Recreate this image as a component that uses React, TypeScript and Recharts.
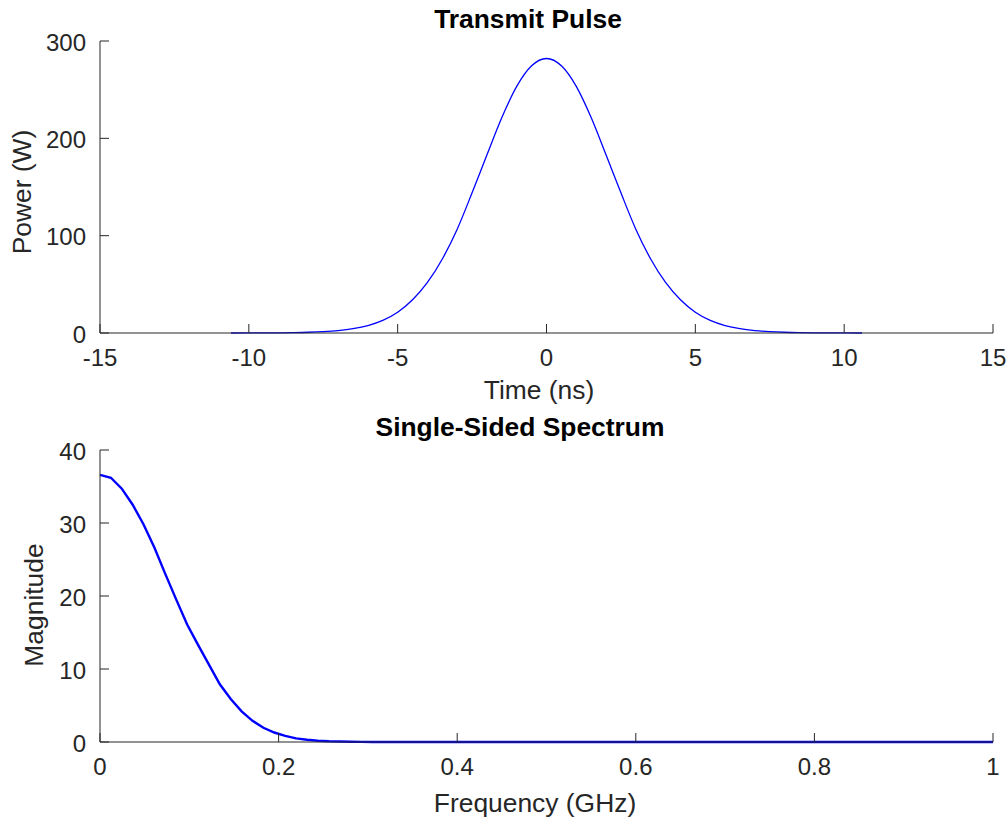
import { Line, LineChart, XAxis, YAxis } from 'recharts'

// top subplot: transmit pulse
const timeNs = [
  -10.6, -10, -9.5, -9, -8.5, -8, -7.5, -7, -6.5, -6, -5.5, -5, -4.5, -4, -3.5, -3, -2.5, -2, -1.5, -1, -0.5,
  0, 0.5, 1, 1.5, 2, 2.5, 3, 3.5, 4, 4.5, 5, 5.5, 6, 6.5, 7, 7.5, 8, 8.5, 9, 9.5, 10, 10.6,
]
const powerW = [
  0, 0.05, 0.1, 0.21, 0.4, 0.75, 1.4, 2.5, 4.4, 7.6, 12.9, 21.3, 34.1, 51.9, 76, 106.7, 144, 183.1, 221.4, 253.4,
  274.5, 282, 274.5, 253.4, 221.4, 183.1, 144, 106.7, 76, 51.9, 34.1, 21.3, 12.9, 7.6, 4.4, 2.5, 1.4, 0.75, 0.4,
  0.21, 0.1, 0.05, 0,
]
const timeTicks = [-15, -10, -5, 0, 5, 10, 15]
const powerTicks = [0, 100, 200, 300]

// bottom subplot: single-sided spectrum
const freqGHz = [
  0, 0.0122, 0.0244, 0.0366, 0.0488, 0.061, 0.0732, 0.0854, 0.0976, 0.1098, 0.122, 0.1342, 0.1464, 0.1586,
  0.1708, 0.183, 0.1952, 0.2074, 0.2196, 0.2318, 0.244, 0.2562, 0.2684, 0.2806, 0.2928, 0.305, 0.4, 0.5, 0.6,
  0.7, 0.8, 0.9, 1,
]
const magnitude = [
  36.6, 36.2, 34.7, 32.5, 29.8, 26.6, 23.0, 19.5, 16.1, 13.3, 10.6, 7.9, 5.9, 4.2, 2.9, 1.95, 1.3, 0.85, 0.5,
  0.3, 0.18, 0.1, 0.06, 0.03, 0.015, 0.01, 0, 0, 0, 0, 0, 0, 0,
]
const freqTicks = [0, 0.2, 0.4, 0.6, 0.8, 1]
const magTicks = [0, 10, 20, 30, 40]

const pulseData = timeNs.map((t, i) => ({ t, p: powerW[i] }))
const spectrumData = freqGHz.map((f, i) => ({ f, m: magnitude[i] }))

const FONT = '"Liberation Sans", Arial, Helvetica, sans-serif'
const INK = '#262626'
const TICK_LEN = 9

function XTick(props: any) {
  const { x, y, payload } = props
  return (
    <g>
      <line x1={x} x2={x} y1={y} y2={y - TICK_LEN} stroke={INK} strokeWidth={1} />
      <text x={x} y={y + 33} textAnchor="middle" fill={INK} fontSize={24} fontFamily={FONT}>
        {payload.value}
      </text>
    </g>
  )
}

function YTick(props: any) {
  const { x, y, payload } = props
  return (
    <g>
      <line x1={x} x2={x + TICK_LEN} y1={y} y2={y} stroke={INK} strokeWidth={1} />
      <text x={x - 14} y={y + 9.5} textAnchor="end" fill={INK} fontSize={24} fontFamily={FONT}>
        {payload.value}
      </text>
    </g>
  )
}

// axes need a size of at least 1px or recharts skips drawing them
const xAxisProps = {
  type: 'number' as const,
  height: 1,
  tickSize: 0,
  tickMargin: 0,
  tickLine: false,
  axisLine: { stroke: INK },
  tick: <XTick />,
  interval: 0 as const,
}
const yAxisProps = {
  type: 'number' as const,
  width: 1,
  tickSize: 0,
  tickMargin: 0,
  tickLine: false,
  axisLine: { stroke: INK },
  tick: <YTick />,
  interval: 0 as const,
}

export default function App() {
  return (
    <div style={{ position: 'absolute', left: 0, top: 0, width: 1006, height: 818, background: '#fff' }}>
      <div style={{ position: 'absolute', left: 0, top: 0 }}>
        <LineChart width={1006} height={400} data={pulseData} margin={{ top: 41, right: 13, bottom: 66, left: 99 }}>
          <XAxis dataKey="t" domain={[-15, 15]} ticks={timeTicks} {...xAxisProps} />
          <YAxis domain={[0, 300]} ticks={powerTicks} {...yAxisProps} />
          <Line type="monotone" dataKey="p" stroke="#0000ff" strokeWidth={1.3} dot={false} isAnimationActive={false} />
        </LineChart>
      </div>
      <div style={{ position: 'absolute', left: 0, top: 409 }}>
        <LineChart width={1006} height={409} data={spectrumData} margin={{ top: 41, right: 13, bottom: 75, left: 99 }}>
          <XAxis dataKey="f" domain={[0, 1]} ticks={freqTicks} {...xAxisProps} />
          <YAxis domain={[0, 40]} ticks={magTicks} {...yAxisProps} />
          <Line type="linear" dataKey="m" stroke="#0000ff" strokeWidth={2.4} dot={false} isAnimationActive={false} />
        </LineChart>
      </div>
      <svg width={1006} height={818} style={{ position: 'absolute', left: 0, top: 0, pointerEvents: 'none' }}>
        <g fontFamily={FONT} fontSize={26.4}>
          <text x={528} y={28} textAnchor="middle" fontWeight="bold" fill="#000">
            Transmit Pulse
          </text>
          <text x={539} y={399} textAnchor="middle" fill={INK}>
            Time (ns)
          </text>
          <text x={31} y={192} textAnchor="middle" fill={INK} transform="rotate(-90, 31, 192)">
            Power (W)
          </text>
          <text x={520} y={436} textAnchor="middle" fontWeight="bold" fill="#000">
            Single-Sided Spectrum
          </text>
          <text x={535} y={812} textAnchor="middle" fill={INK}>
            Frequency (GHz)
          </text>
          <text x={43} y={605} textAnchor="middle" fill={INK} transform="rotate(-90, 43, 605)">
            Magnitude
          </text>
        </g>
      </svg>
    </div>
  )
}
